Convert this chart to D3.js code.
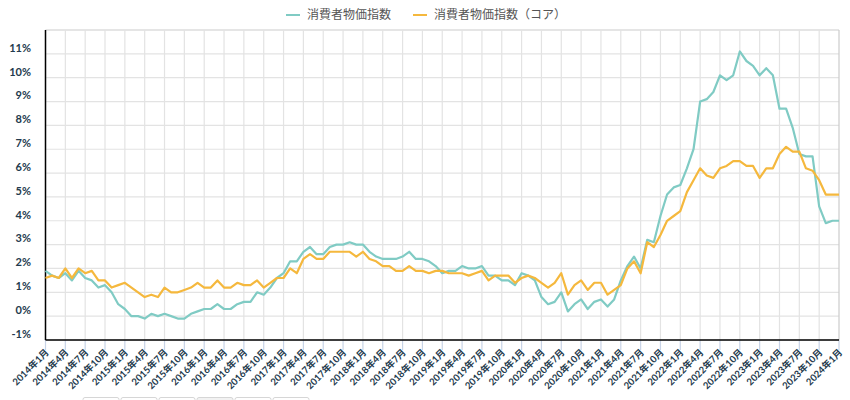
<!DOCTYPE html>
<html>
<head>
<meta charset="utf-8">
<script src="https://cdn.jsdelivr.net/npm/d3@7"></script>
<style>
  body { margin: 0; background: #fff; }
  svg text { font-family: Lato, "Noto Sans CJK JP", sans-serif; }
</style>
</head>
<body>
<svg width="850" height="400"></svg>
<script>
// monthly y/y rates, 2014-01 .. 2024-01
var startYear = 2014
var cpi = [
  1.9, 1.7, 1.6, 1.8, 1.5, 1.9, 1.6, 1.5, 1.2, 1.3, 1.0, 0.5,
  0.3, 0.0, 0.0, -0.1, 0.1, 0.0, 0.1, 0.0, -0.1, -0.1, 0.1, 0.2,
  0.3, 0.3, 0.5, 0.3, 0.3, 0.5, 0.6, 0.6, 1.0, 0.9, 1.2, 1.6,
  1.8, 2.3, 2.3, 2.7, 2.9, 2.6, 2.6, 2.9, 3.0, 3.0, 3.1, 3.0,
  3.0, 2.7, 2.5, 2.4, 2.4, 2.4, 2.5, 2.7, 2.4, 2.4, 2.3, 2.1,
  1.8, 1.9, 1.9, 2.1, 2.0, 2.0, 2.1, 1.7, 1.7, 1.5, 1.5, 1.3,
  1.8, 1.7, 1.5, 0.8, 0.5, 0.6, 1.0, 0.2, 0.5, 0.7, 0.3, 0.6,
  0.7, 0.4, 0.7, 1.5, 2.1, 2.5, 2.0, 3.2, 3.1, 4.2, 5.1, 5.4,
  5.5, 6.2, 7.0, 9.0, 9.1, 9.4, 10.1, 9.9, 10.1, 11.1, 10.7, 10.5,
  10.1, 10.4, 10.1, 8.7, 8.7, 7.9, 6.8, 6.7, 6.7, 4.6, 3.9, 4.0,
  4.0
]
var core = [
  1.6, 1.7, 1.6, 2.0, 1.6, 2.0, 1.8, 1.9, 1.5, 1.5, 1.2, 1.3,
  1.4, 1.2, 1.0, 0.8, 0.9, 0.8, 1.2, 1.0, 1.0, 1.1, 1.2, 1.4,
  1.2, 1.2, 1.5, 1.2, 1.2, 1.4, 1.3, 1.3, 1.5, 1.2, 1.4, 1.6,
  1.6, 2.0, 1.8, 2.4, 2.6, 2.4, 2.4, 2.7, 2.7, 2.7, 2.7, 2.5,
  2.7, 2.4, 2.3, 2.1, 2.1, 1.9, 1.9, 2.1, 1.9, 1.9, 1.8, 1.9,
  1.9, 1.8, 1.8, 1.8, 1.7, 1.8, 1.9, 1.5, 1.7, 1.7, 1.7, 1.4,
  1.6, 1.7, 1.6, 1.4, 1.2, 1.4, 1.8, 0.9, 1.3, 1.5, 1.1, 1.4,
  1.4, 0.9, 1.1, 1.3, 2.0, 2.3, 1.8, 3.1, 2.9, 3.4, 4.0, 4.2,
  4.4, 5.2, 5.7, 6.2, 5.9, 5.8, 6.2, 6.3, 6.5, 6.5, 6.3, 6.3,
  5.8, 6.2, 6.2, 6.8, 7.1, 6.9, 6.9, 6.2, 6.1, 5.7, 5.1, 5.1,
  5.1
]
var yTicks = [-1, 0, 1, 2, 3, 4, 5, 6, 7, 8, 9, 10, 11]
var seriesNames = ["消費者物価指数", "消費者物価指数（コア）"]
var colors = ["#80cbc4", "#f5b83d"]

var months = cpi.map(function(d, i) {
  return (startYear + Math.floor(i / 12)) + "年" + (i % 12 + 1) + "月"
})

var svg = d3.select("svg")
var plotL = 45.5, plotR = 839, plotT = 30, plotB = 340

var x = d3.scalePoint().domain(months).range([plotL, plotR])
var y = d3.scaleLinear().domain([-1, 12]).range([plotB, plotT])
var tickMonths = months.filter(function(d, i) { return i % 3 == 0 })

// grid
svg.append("g").selectAll("line")
  .data(yTicks.concat([12]))
  .enter().append("line")
  .attr("x1", plotL).attr("x2", plotR)
  .attr("y1", d => y(d)).attr("y2", d => y(d))
  .attr("stroke", d => d == 12 ? "#cccccc" : "#e3e3e3")
  .attr("stroke-width", 1.2)

svg.append("g").selectAll("line")
  .data(tickMonths)
  .enter().append("line")
  .attr("x1", d => x(d)).attr("x2", d => x(d))
  .attr("y1", plotT).attr("y2", plotB)
  .attr("stroke", (d, i) => i == tickMonths.length - 1 ? "#cccccc" : "#e3e3e3")
  .attr("stroke-width", 1.2)

// x ticks below the axis
svg.append("g").selectAll("line")
  .data(tickMonths)
  .enter().append("line")
  .attr("x1", d => x(d)).attr("x2", d => x(d))
  .attr("y1", plotB).attr("y2", plotB + 10)
  .attr("stroke", "#c8d3e6")
  .attr("stroke-width", 1.2)

// axis lines
svg.append("line").attr("x1", plotL).attr("x2", plotL).attr("y1", plotT).attr("y2", plotB)
  .attr("stroke", "#000").attr("stroke-width", 1.5)
svg.append("line").attr("x1", plotL).attr("x2", plotR).attr("y1", plotB).attr("y2", plotB)
  .attr("stroke", "#000").attr("stroke-width", 1.5)

// y labels
svg.append("g").selectAll("text")
  .data(yTicks)
  .enter().append("text")
  .attr("x", 31).attr("y", d => y(d) - 6)
  .attr("dy", "0.35em")
  .attr("text-anchor", "end")
  .attr("font-size", 11).attr("font-weight", "bold")
  .attr("fill", "#233a4d")
  .text(d => d + "%")

// x labels
svg.append("g").selectAll("text")
  .data(tickMonths)
  .enter().append("text")
  .attr("transform", d => "translate(" + (x(d) + 4) + "," + (plotB + 13) + ") rotate(-45)")
  .attr("text-anchor", "end")
  .attr("font-size", 9.5).attr("font-weight", "bold")
  .attr("fill", "#233a4d")
  .text(d => d)

// lines
var line = d3.line()
  .x((d, i) => x(months[i]))
  .y(d => y(d))

;[cpi, core].forEach(function(s, k) {
  svg.append("path")
    .datum(s)
    .attr("d", line)
    .attr("fill", "none")
    .attr("stroke", colors[k])
    .attr("stroke-width", 2.2)
    .attr("stroke-linejoin", "round")
})

// legend
var legendX = [286, 413]
seriesNames.forEach(function(name, k) {
  svg.append("line")
    .attr("x1", legendX[k]).attr("x2", legendX[k] + 14)
    .attr("y1", 15).attr("y2", 15)
    .attr("stroke", colors[k]).attr("stroke-width", 2)
  svg.append("text")
    .attr("x", legendX[k] + 21).attr("y", 15)
    .attr("dy", "0.35em")
    .attr("font-size", 12)
    .attr("fill", "#555")
    .text(name)
})

// partly hidden buttons at the bottom edge
svg.append("g").selectAll("rect")
  .data(d3.range(6))
  .enter().append("rect")
  .attr("x", d => 83 + d * 38).attr("y", 397.5)
  .attr("width", 36).attr("height", 12).attr("rx", 2)
  .attr("fill", d => d == 3 ? "#f2f2f2" : "#fff")
  .attr("stroke", "#d6d6d6")
</script>
</body>
</html>
